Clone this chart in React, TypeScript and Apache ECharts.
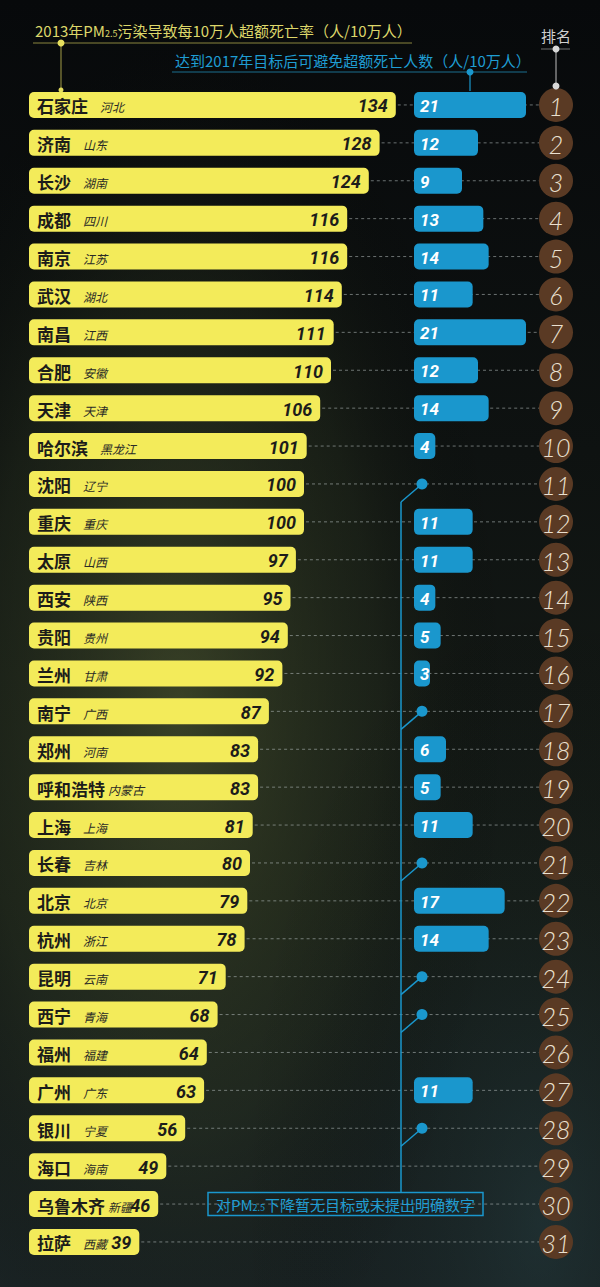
import React, { useEffect, useRef } from "react";
import * as echarts from "echarts";

// ---------- data ----------
const cities = ["石家庄","济南","长沙","成都","南京","武汉","南昌","合肥","天津","哈尔滨","沈阳","重庆","太原","西安","贵阳","兰州","南宁","郑州","呼和浩特","上海","长春","北京","杭州","昆明","西宁","福州","广州","银川","海口","乌鲁木齐","拉萨"];
const provinces = ["河北","山东","湖南","四川","江苏","湖北","江西","安徽","天津","黑龙江","辽宁","重庆","山西","陕西","贵州","甘肃","广西","河南","内蒙古","上海","吉林","北京","浙江","云南","青海","福建","广东","宁夏","海南","新疆","西藏"];
const deathRate = [134,128,124,116,116,114,111,110,106,101,100,100,97,95,94,92,87,83,83,81,80,79,78,71,68,64,63,56,49,46,39];
const avoidable: (number | null)[] = [21,12,9,13,14,11,21,12,14,4,null,11,11,4,5,3,null,6,5,11,null,17,14,null,null,null,11,null,null,null,null];
const noTargetCities = ["沈阳","南宁","长春","昆明","西宁","银川"];
const ranks = cities.map((_, i) => String(i + 1));

const titleMain = "2013年PM{s|2.5}污染导致每10万人超额死亡率（人/10万人）";
const titleBlue = "达到2017年目标后可避免超额死亡人数（人/10万人）";
const rankTitle = "排名";
const boxText = "对PM{s|2.5}下降暂无目标或未提出明确数字";

// ---------- layout ----------
const W = 600, H = 1287;
const TOP = 86, BAND = 37.9, N = cities.length;
const rowY = (i: number) => TOP + (i + 0.5) * BAND;
const RANK_X = 556, RANK_R = 17;
const BLUE_LINE_X = 401;
const YELLOW = "#f3eb5a";
const BLUE = "#1a97cd";
const CJK = '"Noto Sans CJK SC", sans-serif';
const NUM = 'Roboto, "Noto Sans", sans-serif';

export default function App() {
  const ref = useRef<HTMLDivElement>(null);
  useEffect(() => {
    document.body.style.margin = "0";
    const chart = echarts.init(ref.current!, null, { renderer: "svg" });

    const dotIdx = noTargetCities.map((c) => cities.indexOf(c));
    const firstDot = Math.min(...dotIdx);
    const boxIdx = cities.indexOf("乌鲁木齐");
    const boxTop = rowY(boxIdx) - 11.5;

    const yellowSeries = {
      type: "custom",
      xAxisIndex: 0,
      yAxisIndex: 0,
      z: 2,
      data: deathRate.map((v, i) => [v, i]),
      encode: { x: 0, y: 1 },
      renderItem: (params: any, api: any) => {
        const i = params.dataIndex;
        const v = api.value(0);
        const p = api.coord([v, i]);
        const x1 = p[0], yc = p[1];
        const x0 = api.coord([0, i])[0] - 5;
        const h = 26;
        const name = cities[i];
        const provX = x0 + 8 + name.length * 17 + (name.length >= 4 ? 3 : 12);
        return {
          type: "group",
          children: [
            { type: "line", shape: { x1: x1 + 2, y1: yc, x2: RANK_X - RANK_R, y2: yc }, style: { stroke: "rgba(185,195,195,0.55)", lineWidth: 1, lineDash: [3, 3] } },
            { type: "rect", shape: { x: x0, y: yc - h / 2, width: x1 - x0, height: h, r: 5 }, style: { fill: YELLOW } },
            { type: "text", style: { text: name, x: x0 + 8, y: yc + 1, fill: "#1c1c1a", fontSize: 17, fontWeight: "bold", fontFamily: CJK, align: "left", verticalAlign: "middle" } },
            { type: "text", style: { text: provinces[i], x: provX, y: yc + 2, fill: "#2a2a26", fontSize: 12, fontStyle: "italic", fontFamily: CJK, align: "left", verticalAlign: "middle" } },
            { type: "text", style: { text: String(v), x: x1 - 8, y: yc + 1, fill: "#1c1c1a", fontSize: 18, fontWeight: "bold", fontStyle: "italic", fontFamily: NUM, align: "right", verticalAlign: "middle" } },
          ],
        };
      },
    };

    const blueSeries = {
      type: "custom",
      xAxisIndex: 1,
      yAxisIndex: 1,
      z: 3,
      data: avoidable.map((v, i) => [v == null ? 0 : v, i, v == null ? (noTargetCities.includes(cities[i]) ? 2 : 0) : 1]),
      encode: { x: 0, y: 1 },
      renderItem: (params: any, api: any) => {
        const i = params.dataIndex;
        const kind = api.value(2);
        const v = api.value(0);
        const p0 = api.coord([0, i]);
        const x0 = p0[0], yc = p0[1];
        if (kind === 1) {
          const x1 = api.coord([v, i])[0];
          return {
            type: "group",
            children: [
              { type: "rect", shape: { x: x0, y: yc - 13, width: x1 - x0, height: 26, r: 5 }, style: { fill: BLUE } },
              { type: "text", style: { text: String(v), x: x0 + 6, y: yc + 1, fill: "#ffffff", fontSize: 17, fontWeight: "bold", fontStyle: "italic", fontFamily: NUM, align: "left", verticalAlign: "middle" } },
            ],
          };
        }
        if (kind === 2) {
          return {
            type: "group",
            children: [
              { type: "line", shape: { x1: x0 + 8, y1: yc, x2: BLUE_LINE_X, y2: yc + 18 }, style: { stroke: BLUE, lineWidth: 1.5 } },
              { type: "circle", shape: { cx: x0 + 8, cy: yc, r: 5.5 }, style: { fill: BLUE } },
            ],
          };
        }
        return { type: "group", children: [] };
      },
    };

    const rankSeries = {
      type: "custom",
      xAxisIndex: 1,
      yAxisIndex: 1,
      z: 4,
      data: ranks.map((r, i) => [0, i, r]),
      encode: { x: 0, y: 1 },
      renderItem: (params: any, api: any) => {
        const i = params.dataIndex;
        const yc = api.coord([0, i])[1];
        return {
          type: "group",
          children: [
            { type: "circle", shape: { cx: RANK_X, cy: yc, r: RANK_R }, style: { fill: "#5a3a24" } },
            { type: "text", style: { text: ranks[i], x: RANK_X, y: yc + 1, fill: "#ebe1d1", fontSize: 25, fontWeight: 300, fontStyle: "italic", fontFamily: "Lato, Roboto, sans-serif", align: "center", verticalAlign: "middle" } },
          ],
        };
      },
    };

    chart.setOption({
      animation: false,
      backgroundColor: "#0b0e10",
      grid: [
        { left: 34, top: TOP, width: 378, height: N * BAND },
        { left: 414, top: TOP, width: 112, height: N * BAND },
      ],
      xAxis: [
        { type: "value", gridIndex: 0, min: 0, max: 140, show: false },
        { type: "value", gridIndex: 1, min: 0, max: 21, show: false },
      ],
      yAxis: [
        { type: "category", gridIndex: 0, data: cities, inverse: true, show: false },
        { type: "category", gridIndex: 1, data: cities, inverse: true, show: false },
      ],
      graphic: [
        { type: "rect", z: 0, shape: { x: 0, y: 0, width: W, height: H }, style: { fill: new echarts.graphic.LinearGradient(0, 0, 0, 1, [
          { offset: 0, color: "#07090b" }, { offset: 0.35, color: "#0e1211" }, { offset: 0.7, color: "#161c17" }, { offset: 1, color: "#1a2324" } ]) }, silent: true },
        { type: "rect", z: 0, shape: { x: 0, y: 0, width: W, height: H }, style: { fill: new echarts.graphic.RadialGradient(0.3, 0.55, 0.55, [
          { offset: 0, color: "rgba(82,92,50,0.6)" }, { offset: 0.6, color: "rgba(50,60,35,0.28)" }, { offset: 1, color: "rgba(0,0,0,0)" } ]) }, silent: true },
        { type: "rect", z: 0, shape: { x: 0, y: 0, width: W, height: H }, style: { fill: new echarts.graphic.RadialGradient(0.9, 0.95, 0.5, [
          { offset: 0, color: "rgba(40,70,75,0.35)" }, { offset: 1, color: "rgba(0,0,0,0)" } ]) }, silent: true },
        // main title
        { type: "text", z: 10, style: { text: titleMain, x: 35, y: 30, fill: "#ddd76a", fontSize: 15, fontFamily: CJK, verticalAlign: "middle", rich: { s: { fontSize: 9, fill: "#ddd76a", fontFamily: CJK, verticalAlign: "bottom", padding: [6, 0, 0, 0] } } } },
        { type: "line", z: 10, shape: { x1: 33, y1: 43, x2: 412, y2: 43 }, style: { stroke: "#8a853e", lineWidth: 1 } },
        { type: "line", z: 10, shape: { x1: 61, y1: 43, x2: 61, y2: 91 }, style: { stroke: "#8a853e", lineWidth: 1.2 } },
        { type: "circle", z: 10, shape: { cx: 61, cy: 43, r: 3.5 }, style: { fill: "#e6df5e" } },
        { type: "circle", z: 10, shape: { cx: 61, cy: 90, r: 2.5 }, style: { fill: "#e6df5e" } },
        // blue subtitle
        { type: "text", z: 10, style: { text: titleBlue, x: 175, y: 60, fill: "#1f9dd3", fontSize: 15, fontFamily: CJK, verticalAlign: "middle" } },
        { type: "line", z: 10, shape: { x1: 172, y1: 72, x2: 527, y2: 72 }, style: { stroke: "#1a6f8e", lineWidth: 1 } },
        { type: "line", z: 10, shape: { x1: 470, y1: 72, x2: 470, y2: 91 }, style: { stroke: BLUE, lineWidth: 1.2 } },
        { type: "circle", z: 10, shape: { cx: 470, cy: 72, r: 3.5 }, style: { fill: BLUE } },
        // rank title
        { type: "text", z: 10, style: { text: rankTitle, x: RANK_X, y: 35, fill: "#cfcfcf", fontSize: 15, fontFamily: CJK, align: "center", verticalAlign: "middle" } },
        { type: "line", z: 10, shape: { x1: 541, y1: 49, x2: 570, y2: 49 }, style: { stroke: "#6f7070", lineWidth: 1 } },
        { type: "line", z: 10, shape: { x1: RANK_X, y1: 49, x2: RANK_X, y2: 86 }, style: { stroke: "#bdbdbd", lineWidth: 1 } },
        { type: "circle", z: 10, shape: { cx: RANK_X, cy: 49, r: 3.5 }, style: { fill: "#d8d8d8" } },
        { type: "circle", z: 10, shape: { cx: RANK_X, cy: 86, r: 3.5 }, style: { fill: "#d8d8d8" } },
        // blue vertical connector + box
        { type: "line", z: 10, shape: { x1: BLUE_LINE_X, y1: rowY(firstDot) + 18, x2: BLUE_LINE_X, y2: boxTop }, style: { stroke: BLUE, lineWidth: 1.5 } },
        { type: "rect", z: 10, shape: { x: 208, y: boxTop, width: 275, height: 23 }, style: { fill: "rgba(0,0,0,0)", stroke: BLUE, lineWidth: 1.5 } },
        { type: "text", z: 10, style: { text: boxText, x: 345.5, y: rowY(boxIdx), fill: "#1f9dd3", fontSize: 15, fontFamily: CJK, align: "center", verticalAlign: "middle", rich: { s: { fontSize: 9, fill: "#1f9dd3", fontFamily: CJK, verticalAlign: "bottom", padding: [6, 0, 0, 0] } } } },
      ],
      series: [yellowSeries, blueSeries, rankSeries],
    });
    return () => chart.dispose();
  }, []);
  return <div ref={ref} style={{ position: "absolute", left: 0, top: 0, width: W, height: H }} />;
}
